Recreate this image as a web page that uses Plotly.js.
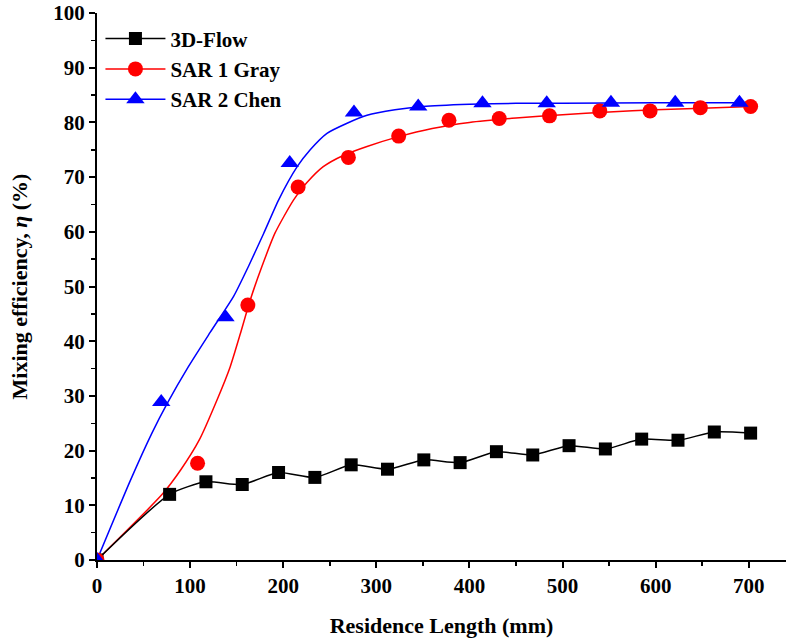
<!DOCTYPE html>
<html>
<head>
<meta charset="utf-8">
<script src="https://cdn.plot.ly/plotly-3.0.1.min.js"></script>
<style>html,body{margin:0;padding:0;background:#fff;}#chart{width:786px;height:642px;}</style>
</head>
<body>
<div id="chart"></div>
<script>
// Measured data points
const flowX = [0, 78, 117, 156, 195, 234, 273, 312, 351, 390, 429, 468, 507, 546, 585, 624, 663, 702];
const flowY = [0, 12.0, 14.3, 13.8, 16.0, 15.1, 17.4, 16.6, 18.3, 17.8, 19.8, 19.2, 20.9, 20.3, 22.1, 21.9, 23.4, 23.2];

const grayX = [0, 108, 162, 216, 270, 324, 378, 432, 486, 540, 594, 648, 702];
const grayY = [0, 17.7, 46.6, 68.2, 73.6, 77.5, 80.4, 80.7, 81.2, 82.1, 82.1, 82.7, 82.9];

const chenX = [0, 69, 138, 207, 276, 345, 414, 483, 552, 621, 690];
const chenY = [0, 28.9, 44.4, 72.6, 81.8, 82.9, 83.5, 83.5, 83.6, 83.6, 83.6];

// Fitted curves
const grayFitX = [0, 70, 90, 110, 129, 143, 154, 164.5, 177, 191, 211, 225, 243, 265, 290, 324, 360, 400, 450, 500, 550, 600, 650, 702];
const grayFitY = [0, 12.0, 16.5, 22.0, 29.3, 35.3, 41.4, 47.5, 53.6, 59.7, 65.8, 68.9, 71.9, 74.0, 75.6, 77.4, 78.9, 80.0, 80.8, 81.4, 81.9, 82.3, 82.6, 82.9];

const chenFitX = [0, 36, 59, 75, 98, 121.5, 147, 163, 179, 195, 215, 229, 247, 268, 290, 320, 350, 400, 450, 500, 600, 690];
const chenFitY = [0, 14.6, 23.2, 28.5, 35.3, 41.6, 48.3, 53.8, 59.7, 65.8, 71.9, 75.0, 78.0, 79.8, 81.3, 82.3, 82.9, 83.3, 83.5, 83.5, 83.6, 83.6];

const names = ['3D-Flow', 'SAR 1 Gray', 'SAR 2 Chen'];
const colors = ['#000000', '#ff0000', '#0000ff'];
const symbols = ['square', 'circle', 'triangle-up'];
const sizes = [13, 15, 16];

const traces = [
  {x: grayFitX, y: grayFitY, mode: 'lines', line: {color: colors[1], width: 1.5, shape: 'spline', smoothing: 0.6}, showlegend: false, hoverinfo: 'skip'},
  {x: chenFitX, y: chenFitY, mode: 'lines', line: {color: colors[2], width: 1.5, shape: 'spline', smoothing: 0.6}, showlegend: false, hoverinfo: 'skip'},
  {x: flowX, y: flowY, mode: 'lines+markers', name: names[0],
   line: {color: colors[0], width: 1.5, shape: 'spline', smoothing: 0.6},
   marker: {symbol: symbols[0], size: sizes[0], color: colors[0]}},
  {x: grayX, y: grayY, mode: 'markers', showlegend: false,
   marker: {symbol: symbols[1], size: sizes[1], color: colors[1]}},
  {x: chenX, y: chenY, mode: 'markers', showlegend: false,
   marker: {symbol: symbols[2], size: sizes[2], color: colors[2]}},
  {x: [null], y: [null], mode: 'lines+markers', name: names[1],
   line: {color: colors[1], width: 1.5}, marker: {symbol: symbols[1], size: sizes[1], color: colors[1]}},
  {x: [null], y: [null], mode: 'lines+markers', name: names[2],
   line: {color: colors[2], width: 1.5}, marker: {symbol: symbols[2], size: sizes[2], color: colors[2]}}
];

const fontFam = '"Liberation Serif", "Times New Roman", serif';
const layout = {
  width: 786, height: 642,
  margin: {l: 97, r: 0, t: 13, b: 82},
  paper_bgcolor: '#fff', plot_bgcolor: '#fff',
  font: {family: fontFam, size: 21, color: '#000'},
  showlegend: true,
  legend: {x: 0.005, y: 0.99, xanchor: 'left', yanchor: 'top', bgcolor: 'rgba(0,0,0,0)',
           font: {family: fontFam, size: 21, color: '#000', weight: 'bold'},
           itemwidth: 60, traceorder: 'normal'},
  xaxis: {
    range: [0, 740], showgrid: false, zeroline: false,
    showline: true, linecolor: '#000', linewidth: 2,
    ticks: 'outside', ticklen: 6, tickwidth: 2, tickcolor: '#000',
    dtick: 100, tick0: 0,
    minor: {dtick: 50, ticks: 'outside', ticklen: 4, tickwidth: 1.5, tickcolor: '#000'},
    tickfont: {family: fontFam, size: 21, weight: 'bold'},
    title: {text: '<b>Residence Length (mm)</b>', font: {family: fontFam, size: 22}, standoff: 20}
  },
  yaxis: {
    range: [0, 100], showgrid: false, zeroline: false,
    showline: true, linecolor: '#000', linewidth: 2,
    ticks: 'outside', ticklen: 6, tickwidth: 2, tickcolor: '#000',
    dtick: 10, tick0: 0,
    minor: {dtick: 5, ticks: 'outside', ticklen: 4, tickwidth: 1.5, tickcolor: '#000'},
    tickfont: {family: fontFam, size: 21, weight: 'bold'},
    title: {text: '<b>Mixing efficiency, <i>η</i> (%)</b>', font: {family: fontFam, size: 22}, standoff: 20}
  }
};

Plotly.newPlot('chart', traces, layout, {displayModeBar: false, staticPlot: true});
</script>
</body>
</html>
